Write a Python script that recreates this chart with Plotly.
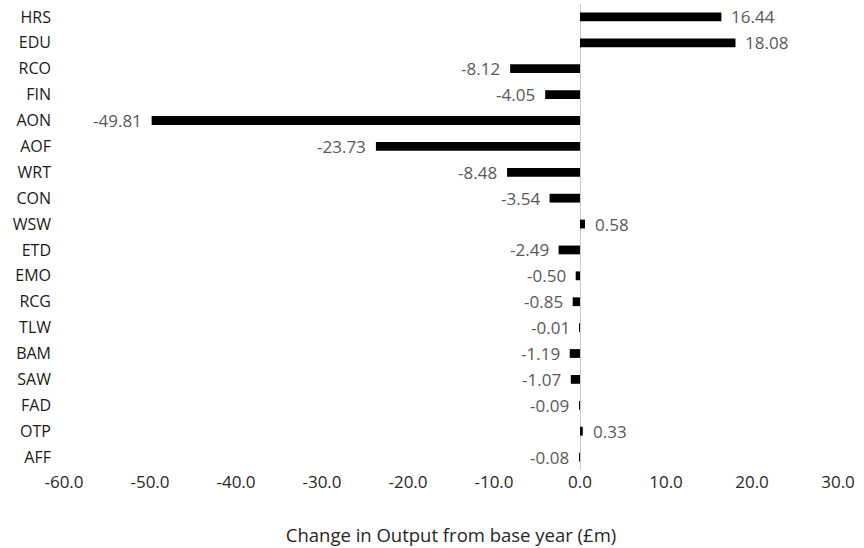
import plotly.graph_objects as go

categories = ["HRS", "EDU", "RCO", "FIN", "AON", "AOF", "WRT", "CON", "WSW",
              "ETD", "EMO", "RCG", "TLW", "BAM", "SAW", "FAD", "OTP", "AFF"]
values = [16.44, 18.08, -8.12, -4.05, -49.81, -23.73, -8.48, -3.54, 0.58,
          -2.49, -0.50, -0.85, -0.01, -1.19, -1.07, -0.09, 0.33, -0.08]
x_ticks = [-60, -50, -40, -30, -20, -10, 0, 10, 20, 30]
x_ticktext = [f"{v:.1f}" for v in x_ticks]
x_title = "Change in Output from base year (£m)"

FONT = "'Open Sans', sans-serif"

fig = go.Figure()
fig.add_trace(go.Bar(
    x=values, y=categories, orientation="h",
    marker=dict(color="#000000", line=dict(width=0)),
    width=0.34,
    hoverinfo="x+y",
))

for c, v in zip(categories, values):
    fig.add_annotation(
        x=v, y=c, xref="x", yref="y",
        text=f"{v:.2f}", showarrow=False,
        xanchor="left" if v >= 0 else "right",
        xshift=8 if v >= 0 else -8,
        font=dict(family=FONT, size=17, color="#595959"),
    )

fig.update_layout(
    width=864, height=548,
    margin=dict(l=64, r=26, t=4, b=78),
    paper_bgcolor="white", plot_bgcolor="white",
    showlegend=False,
    font=dict(family=FONT, size=16, color="#262626"),
)
fig.update_xaxes(
    range=[-60, 30], tickvals=x_ticks, ticktext=x_ticktext,
    showgrid=False, showline=False, ticks="",
    zeroline=True, zerolinecolor="#c8c8c8", zerolinewidth=1,
    automargin=False,
    tickfont=dict(family=FONT, size=17, color="#262626"),
    title=dict(text=x_title, standoff=37,
               font=dict(family=FONT, size=18.5, color="#262626")),
)
fig.update_yaxes(
    categoryorder="array", categoryarray=categories[::-1],
    range=[-0.5, 17.5],
    showgrid=False, showline=False, ticks="",
    automargin=False,
    ticklabelstandoff=12,
    tickfont=dict(family=FONT, size=16, color="#1a1a1a"),
)

# remove the browser's default 8px body margin so the figure fills the window
fig.write_html("out.html", config={"displayModeBar": False},
               post_script="document.body.style.margin='0';")
